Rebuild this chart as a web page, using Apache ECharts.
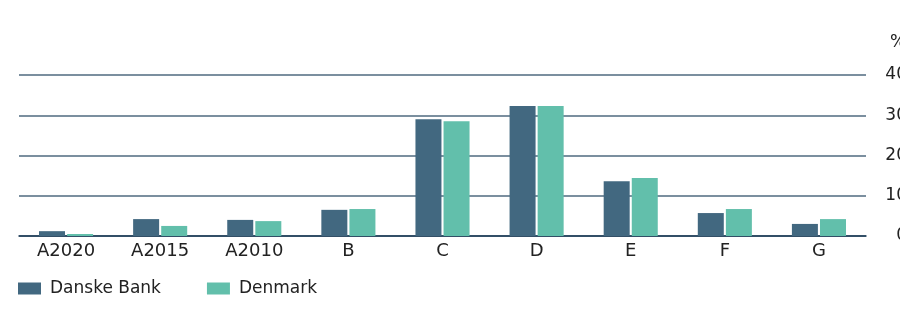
<!DOCTYPE html>
<html>
<head>
<meta charset="utf-8">
<script src="https://cdn.jsdelivr.net/npm/echarts@6/dist/echarts.min.js"></script>
<style>
  html, body { margin: 0; padding: 0; background: #fff; }
  #chart { width: 900px; height: 315px; }
</style>
</head>
<body>
<div id="chart"></div>
<script>
var categories = ["A2020", "A2015", "A2010", "B", "C", "D", "E", "F", "G"];
var danskeBank = [1.2, 4.2, 4.0, 6.5, 29.0, 32.3, 13.6, 5.7, 3.0];
var denmark = [0.5, 2.5, 3.7, 6.7, 28.5, 32.3, 14.4, 6.7, 4.2];
var yTicks = [0, 10, 20, 30, 40];

var chart = echarts.init(document.getElementById("chart"));
var font = "DejaVu Sans";

chart.setOption({
    animation: false,
    textStyle: { fontFamily: font },
    grid: { left: 19, right: 34, top: 75, bottom: 79, containLabel: false, outerBoundsMode: "none" },
    legend: {
        left: 13,
        top: 275,
        itemWidth: 23,
        itemHeight: 12,
        itemGap: 46,
        icon: "rect",
        textStyle: { fontSize: 17, color: "#222", fontFamily: font, padding: [0, 0, 0, 4] },
        data: ["Danske Bank", "Denmark"]
    },
    xAxis: {
        type: "category",
        data: categories,
        axisTick: { show: false },
        axisLine: { lineStyle: { color: "#1d3b55", width: 1.5 } },
        axisLabel: { fontSize: 18, color: "#222", margin: 6, fontFamily: font }
    },
    yAxis: {
        type: "value",
        position: "right",
        min: yTicks[0],
        max: yTicks[yTicks.length - 1],
        interval: 10,
        name: "%",
        nameLocation: "end",
        nameGap: 24,
        nameTextStyle: { fontSize: 17, color: "#222", align: "left", padding: [0, 0, 0, 24], fontFamily: font },
        axisLine: { show: false },
        axisTick: { show: false },
        axisLabel: { fontSize: 17, color: "#222", align: "right", margin: 41, fontFamily: font },
        splitLine: { lineStyle: { color: "#4f6a7f", width: 1.5 } }
    },
    series: [
        {
            name: "Danske Bank",
            type: "bar",
            data: danskeBank,
            barWidth: 26,
            barGap: "8%",
            itemStyle: { color: "#426880" }
        },
        {
            name: "Denmark",
            type: "bar",
            data: denmark,
            barWidth: 26,
            itemStyle: { color: "#62bfab" }
        }
    ]
});

window.addEventListener("resize", function () {
    chart.resize();
});
</script>
</body>
</html>
